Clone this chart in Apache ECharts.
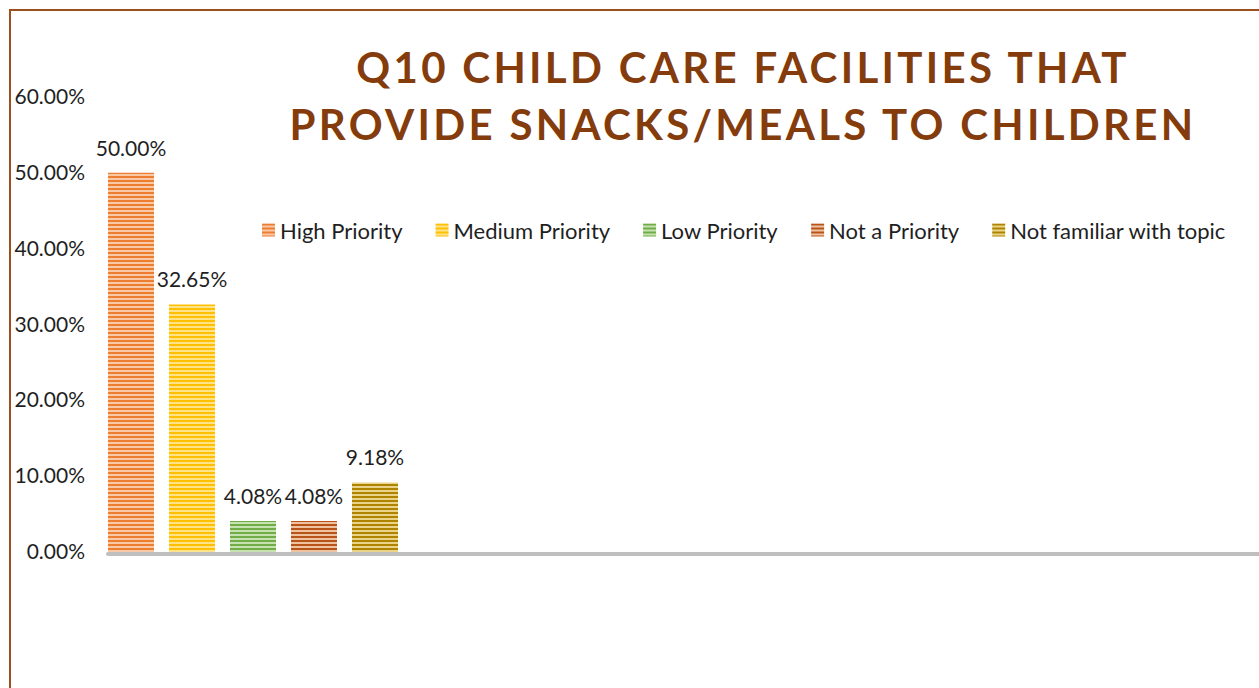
<!DOCTYPE html>
<html>
<head>
<meta charset="utf-8">
<script src="https://cdn.jsdelivr.net/npm/echarts@6/dist/echarts.min.js"></script>
<style>
  html, body { margin: 0; padding: 0; background: #fff; overflow: hidden; }
  #chart { position: absolute; left: 0; top: 0; width: 1259px; height: 688px; }
  #frame { position: absolute; left: 9px; top: 9px; width: 2000px; height: 2000px;
           border-left: 2px solid #9E4F1E; border-top: 2px solid #9E4F1E; pointer-events: none; }
</style>
</head>
<body>
<div id="chart"></div>
<div id="frame"></div>
<script>
// ---- data ----
const titleLines = ['Q10 CHILD CARE FACILITIES THAT', 'PROVIDE SNACKS/MEALS TO CHILDREN'];
const categories = ['Q10'];
const seriesNames = ['High Priority', 'Medium Priority', 'Low Priority', 'Not a Priority', 'Not familiar with topic'];
const highPriority = [50.00];
const mediumPriority = [32.65];
const lowPriority = [4.08];
const notAPriority = [4.08];
const notFamiliar = [9.18];
const yTicks = [0, 10, 20, 30, 40, 50, 60];

const seriesValues = [highPriority, mediumPriority, lowPriority, notAPriority, notFamiliar];
const baseColors = ['#ED7D31', '#FFC000', '#70AD47', '#B8541A', '#AD8300'];
const lightColors = ['#F9C9A6', '#FFE38A', '#C6E2B0', '#EFC3A2', '#EBD48A'];

function stripe(dark, light) {
  const c = document.createElement('canvas');
  c.width = 4; c.height = 4;
  const ctx = c.getContext('2d');
  ctx.fillStyle = dark; ctx.fillRect(0, 0, 4, 2);
  ctx.fillStyle = light; ctx.fillRect(0, 2, 4, 2);
  return { image: c, repeat: 'repeat' };
}

const FONT = 'Lato';
const TXT = '#1F1F1F';

const chart = echarts.init(document.getElementById('chart'), null, { renderer: 'svg' });

const series = seriesNames.map((name, i) => ({
  name: name,
  type: 'bar',
  xAxisIndex: 0,
  yAxisIndex: 0,
  data: seriesValues[i],
  barWidth: 46,
  barGap: '32.6%',
  itemStyle: { color: stripe(baseColors[i], lightColors[i]) },
  label: {
    show: true,
    position: 'top',
    distance: 15,
    color: TXT,
    fontFamily: FONT,
    fontSize: 21,
    formatter: p => p.value.toFixed(2) + '%'
  }
}));

chart.setOption({
  backgroundColor: 'transparent',
  animation: false,
  title: {
    text: titleLines.join('\n'),
    left: 738,
    textAlign: 'center',
    top: 33,
    textStyle: {
      color: '#843C0C',
      fontFamily: FONT,
      fontWeight: 'bold',
      fontSize: 42,
      lineHeight: 57
    }
  },
  legend: {
    data: seriesNames,
    left: 257,
    top: 214,
    itemWidth: 13,
    itemHeight: 13,
    itemGap: 33,
    icon: 'rect',
    textStyle: { color: TXT, fontFamily: FONT, fontSize: 22 }
  },
  grid: [
    { left: 108, right: 861, top: 97, bottom: 136, containLabel: false },
    { left: 108, right: -200, top: 97, bottom: 134, containLabel: false }
  ],
  xAxis: [
    {
      type: 'category', gridIndex: 0, data: categories,
      axisLine: { show: false }, axisTick: { show: false }, axisLabel: { show: false }
    },
    {
      type: 'value', gridIndex: 1, min: 0, max: 1,
      axisLine: { show: true, lineStyle: { color: '#BFBFBF', width: 4 } },
      axisTick: { show: false }, axisLabel: { show: false }, splitLine: { show: false }
    }
  ],
  yAxis: [
    {
      type: 'value', gridIndex: 0, min: yTicks[0], max: yTicks[yTicks.length - 1], interval: yTicks[1] - yTicks[0],
      axisLine: { show: false }, axisTick: { show: false }, splitLine: { show: false },
      axisLabel: {
        color: TXT, fontFamily: FONT, fontSize: 21, margin: 23,
        verticalAlign: 'bottom', lineHeight: 3,
        formatter: v => v.toFixed(2) + '%'
      }
    },
    {
      type: 'value', gridIndex: 1, min: 0, max: 1, show: false
    }
  ],
  series: series
});

function spaceTitle() {
  document.querySelectorAll('#chart text').forEach(t => {
    if (titleLines.indexOf(t.textContent) >= 0) t.style.letterSpacing = '3.3px';
  });
}
spaceTitle();
chart.on('finished', spaceTitle);
</script>
</body>
</html>
